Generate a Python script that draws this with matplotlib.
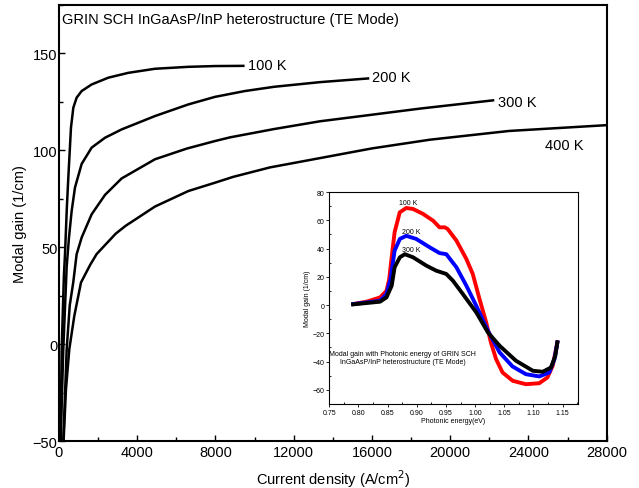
import matplotlib
matplotlib.use("Agg")
import matplotlib.pyplot as plt
from matplotlib.ticker import MultipleLocator, FormatStrFormatter

plt.rcParams['font.family'] = ['Liberation Sans', 'DejaVu Sans']

# ---- main chart data: modal gain vs current density ----
x_100 = [77, 138, 250, 307, 400, 477, 613, 733, 903, 1159, 1670, 2522, 3545, 4908, 6612, 7975, 9424]
y_100 = [-50, -2.6, 35, 46.4, 70, 85.9, 111.7, 122, 127.2, 130.6, 134, 137.5, 140, 142.1, 143.1, 143.5, 143.6]

x_200 = [87, 220, 394, 511, 648, 818, 1159, 1670, 2352, 3203, 4908, 6612, 7975, 9500, 11000, 13343, 15797]
y_200 = [-50, -2.6, 40, 55, 68.7, 80.8, 93, 101.4, 106.5, 110.8, 117.7, 123.7, 127.6, 130.6, 132.8, 135.2, 137.1]

x_300 = [220, 394, 550, 731, 903, 1159, 1670, 2352, 3203, 4908, 6529, 7975, 8742, 11000, 13343, 15542, 18500, 22188]
y_300 = [-50, -2.6, 20, 32, 46.4, 55, 67, 77, 85.5, 95.4, 100.9, 104.8, 106.7, 111, 115, 117.8, 121.6, 125.8]

x_400 = [235, 358, 528, 784, 1125, 1600, 1927, 2900, 3400, 4908, 6612, 7975, 8900, 10787, 13343, 16000, 18967, 23000, 28000]
y_400 = [-50, -23.2, -2.6, 14.6, 31.8, 41, 46.5, 57, 61, 71, 79, 83.3, 86.3, 91.2, 96, 101, 105.5, 110, 113]

main_labels = ["100 K", "200 K", "300 K", "400 K"]

# ---- inset data: modal gain vs photonic energy ----
e_100 = [0.791, 0.814, 0.837, 0.848, 0.8526, 0.8566, 0.862, 0.8708, 0.882, 0.8936, 0.9107,
         0.928, 0.939, 0.948, 0.953, 0.968, 0.985, 0.996, 1.0075, 1.019, 1.027, 1.036,
         1.047, 1.0645, 1.087, 1.11, 1.124, 1.133, 1.141]
g_100 = [0.7, 2.4, 5.4, 10, 18, 32.6, 51.5, 65.6, 68.7, 68, 64.5,
         59.7, 55, 55, 53.8, 45.6, 32.6, 22, 4.3, -12.3, -26.4, -38.3,
         -47.7, -53.6, -56, -55.3, -51.2, -43, -26.4]

e_200 = [0.791, 0.837, 0.848, 0.855, 0.862, 0.871, 0.882, 0.899, 0.922, 0.939, 0.9506,
         0.968, 0.985, 1.002, 1.022, 1.042, 1.064, 1.087, 1.11, 1.127, 1.136, 1.141]
g_200 = [0.7, 3, 7.8, 18.4, 38.5, 46.8, 49, 46.8, 40.9, 36.8, 36,
         26.7, 13.7, -0.5, -18.2, -33.5, -43.4, -48.9, -50.5, -47.7, -38.3, -26.4]

e_300 = [0.791, 0.837, 0.848, 0.857, 0.862, 0.871, 0.8795, 0.8936, 0.9164, 0.9335, 0.9506,
         0.962, 0.979, 1.002, 1.022, 1.042, 1.07, 1.099, 1.116, 1.13, 1.1375, 1.141]
g_300 = [0.5, 2.4, 5.4, 13.7, 26.7, 33.8, 36, 33.8, 27.9, 24.3, 22,
         17.2, 7.8, -5.2, -19.4, -28.8, -39.4, -46.5, -47.2, -44.2, -35.9, -26.4]

inset_labels = ["100 K", "200 K", "300 K"]

fig = plt.figure(figsize=(6.39, 4.89), dpi=100)
ax = fig.add_axes([0.0923, 0.0961, 0.8572, 0.8916])

for xs, ys in [(x_100, y_100), (x_200, y_200), (x_300, y_300), (x_400, y_400)]:
    ax.plot(xs, ys, color='black', lw=1.8, solid_joinstyle='round')

ax.set_xlim(0, 28000)
ax.set_ylim(-50, 175)
ax.xaxis.set_major_locator(MultipleLocator(4000))
ax.xaxis.set_minor_locator(MultipleLocator(2000))
ax.yaxis.set_major_locator(MultipleLocator(50))
ax.yaxis.set_minor_locator(MultipleLocator(25))
ax.tick_params(which='both', direction='in', labelsize=10.5, width=1)
ax.tick_params(which='major', length=4, pad=1)
ax.tick_params(which='minor', length=3)
ax.tick_params(axis='x', pad=3)
for s in ax.spines.values():
    s.set_linewidth(1.5)

ax.set_xlabel("Current density (A/cm$^2$)", fontsize=10.5, labelpad=6)
ax.set_ylabel("Modal gain (1/cm)", fontsize=10.5, labelpad=4)

ax.text(0.006, 0.968, "GRIN SCH InGaAsP/InP heterostructure (TE Mode)",
        transform=ax.transAxes, fontsize=10.5, va='center', ha='left')

label_pos = [(9663, 143.8), (16002, 138.1), (22444, 124.7), (24847, 102.6)]
for lab, (lx, ly) in zip(main_labels, label_pos):
    ax.text(lx, ly, lab, fontsize=10.5, va='center', ha='left')

# ---- inset ----
ins = fig.add_axes([0.5153, 0.1718, 0.3889, 0.4335])
ins.plot(e_100, g_100, color='#ff0000', lw=2.8, solid_joinstyle='round')
ins.plot(e_200, g_200, color='#0000ff', lw=2.8, solid_joinstyle='round')
ins.plot(e_300, g_300, color='black', lw=2.8, solid_joinstyle='round')
ins.set_xlim(0.75, 1.176)
ins.set_ylim(-70, 80)
ins.xaxis.set_major_locator(MultipleLocator(0.05))
ins.xaxis.set_minor_locator(MultipleLocator(0.025))
ins.yaxis.set_major_locator(MultipleLocator(20))
ins.yaxis.set_minor_locator(MultipleLocator(10))
ins.xaxis.set_major_formatter(FormatStrFormatter('%.2f'))
ins.tick_params(which='both', labelsize=5, width=0.6, pad=1.5)
ins.tick_params(which='major', direction='out', length=2)
ins.tick_params(which='minor', direction='in', length=1.5)
for s in ins.spines.values():
    s.set_linewidth(0.8)
ins.set_xlabel("Photonic energy(eV)", fontsize=5, labelpad=1)
ins.set_ylabel("Modal gain (1/cm)", fontsize=5, labelpad=1)

inset_label_pos = [(0.869, 72.3), (0.874, 52.4), (0.874, 39.2)]
for lab, (lx, ly) in zip(inset_labels, inset_label_pos):
    ins.text(lx, ly, lab, fontsize=5, va='center', ha='left')
ins.text(0.876, -37.2, "Modal gain with Photonic energy of GRIN SCH\nInGaAsP/InP heterostructure (TE Mode)",
         fontsize=5, ha='center', va='center', linespacing=1.2)

fig.savefig("out.png", dpi=100)
